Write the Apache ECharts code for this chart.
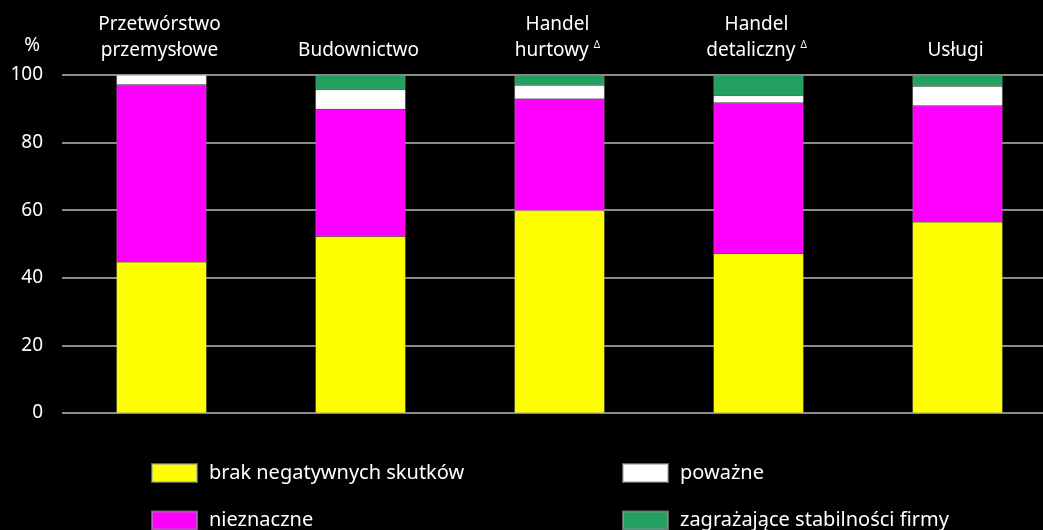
<!DOCTYPE html>
<html>
<head>
<meta charset="utf-8">
<script src="https://cdn.jsdelivr.net/npm/echarts@6/dist/echarts.min.js"></script>
<style>html,body{margin:0;padding:0;background:#000;}#c{width:1043px;height:530px;}</style>
</head>
<body>
<div id="c"></div>
<script>
const categories = ['Przetwórstwo\nprzemysłowe', 'Budownictwo', 'Handel\nhurtowy {s|Δ}', 'Handel\ndetaliczny {s|Δ}', 'Usługi'];
const seriesNames = ['brak negatywnych skutków', 'nieznaczne', 'poważne', 'zagrażające stabilności firmy'];
const brak = [44.7, 52.2, 59.9, 47.1, 56.5];
const nieznaczne = [52.4, 37.7, 33.0, 44.7, 34.4];
const powazne = [2.9, 5.8, 4.1, 2.1, 5.8];
const zagrazajace = [0.0, 4.3, 3.0, 6.1, 3.3];
const yTicks = [0, 20, 40, 60, 80, 100];

const colors = ['#ffff00', '#ff00ff', '#ffffff', '#23a05f'];
const values = [brak, nieznaczne, powazne, zagrazajace];
const font = 'Noto Sans';

const legendPos = [[151, 463], [151, 510.5], [622, 463], [622, 510.5]];

const chart = echarts.init(document.getElementById('c'));
chart.setOption({
  backgroundColor: '#000',
  animation: false,
  grid: { left: 62, right: -14, top: 75, bottom: 117, containLabel: false, outerBoundsMode: 'none' },
  xAxis: {
    type: 'category',
    position: 'top',
    data: categories,
    axisLine: { show: false },
    axisTick: { show: false },
    axisLabel: {
      color: '#fff', fontFamily: font, fontSize: 19, lineHeight: 26, margin: 11,
      padding: [0, 4, 0, 0],
      rich: { s: { fontSize: 10, color: '#fff', fontFamily: font, padding: [0, 0, 12, 0] } }
    }
  },
  yAxis: {
    type: 'value', min: yTicks[0], max: yTicks[yTicks.length - 1], interval: 20,
    name: '%', nameLocation: 'end', nameGap: 20,
    nameTextStyle: { color: '#fff', fontFamily: font, fontSize: 19, align: 'right', padding: [0, 22, 0, 0] },
    axisLine: { show: false }, axisTick: { show: false },
    axisLabel: { color: '#fff', fontFamily: font, fontSize: 19, margin: 19 },
    splitLine: { lineStyle: { color: '#8a8a8a', width: 2 } }
  },
  legend: seriesNames.map((n, i) => ({
    data: [n], left: legendPos[i][0], top: legendPos[i][1], padding: 0,
    itemWidth: 45, itemHeight: 18, icon: 'rect',
    textStyle: { color: '#fff', fontFamily: font, fontSize: 20, padding: [0, 0, 0, 7] }
  })),
  series: seriesNames.map((n, i) => ({
    name: n, type: 'bar', stack: 'a', data: values[i], barWidth: 90,
    itemStyle: { color: colors[i], borderColor: 'rgba(160,160,160,0.6)', borderWidth: 0.5 }
  }))
});
</script>
</body>
</html>
